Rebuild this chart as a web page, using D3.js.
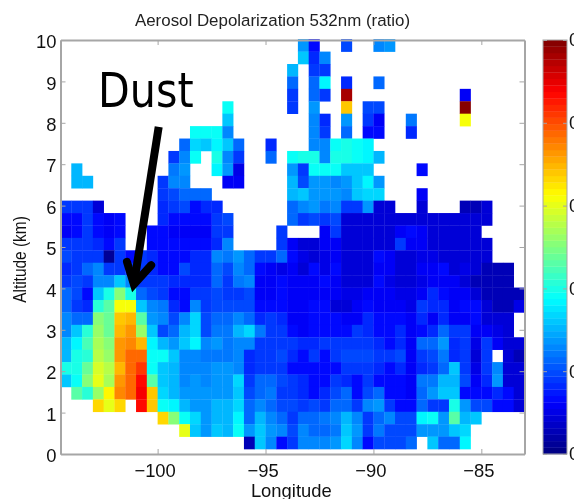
<!DOCTYPE html>
<html>
<head>
<meta charset="utf-8">
<script src="https://cdn.jsdelivr.net/npm/d3@7"></script>
<style>
	html, body { margin: 0; padding: 0; background: #fff; overflow: hidden; }
	svg { display: block; font-family: "Liberation Sans", Arial, sans-serif; filter: blur(0.45px); }
	.axis path, .axis line { stroke: #a6a6a6; }
	.axis text { fill: #111; font-size: 18.4px; }
</style>
</head>
<body>
<svg width="574" height="499"></svg>
<script>
const _ = null;

// one entry per longitude bin, ratio in hundredths
// rows run from the top of the plot down to the lowest altitude bin
const depolRows = [
	[_,_,_,_,_,_,_,_,_,_, _,_,_,_,_,_,_,_,_,_, _,_,14,7,_,_,10,_,_,13, 14,_,_,_,_,_,_,_,_,_, _,_,_],
	[_,_,_,_,_,_,_,_,_,_, _,_,_,_,_,_,_,_,_,_, _,_,16,8,13,_,_,_,_,_, _,_,_,_,_,_,_,_,_,_, _,_,_],
	[_,_,_,_,_,_,_,_,_,_, _,_,_,_,_,_,_,_,_,_, _,15,_,9,9,_,_,_,_,_, _,_,_,_,_,_,_,_,_,_, _,_,_],
	[_,_,_,_,_,_,_,_,_,_, _,_,_,_,_,_,_,_,_,_, _,11,_,11,18,_,8,_,_,11, _,_,_,_,_,_,_,_,_,_, _,_,_],
	[_,_,_,_,_,_,_,_,_,_, _,_,_,_,_,_,_,_,_,_, _,9,_,11,9,_,48,_,_,_, _,_,_,_,_,_,_,6,_,_, _,_,_],
	[_,_,_,_,_,_,_,_,_,_, _,_,_,_,_,19,_,_,_,_, _,9,_,14,_,_,34,_,10,10, _,_,_,_,_,_,_,50,_,_, _,_,_],
	[_,_,_,_,_,_,_,_,_,_, _,_,_,_,_,16,_,_,_,_, _,_,_,13,8,_,14,_,9,6, _,_,12,_,_,_,_,31,_,_, _,_,_],
	[_,_,_,_,_,_,_,_,_,_, _,_,19,19,19,13,_,_,_,_, _,_,_,13,9,_,11,_,7,7, _,_,8,_,_,_,_,_,_,_, _,_,_],
	[_,_,_,_,_,_,_,_,_,_, _,11,17,16,18,16,11,_,_,8, _,_,_,13,13,19,20,19,18,_, _,_,_,_,_,_,_,_,_,_, _,_,_],
	[_,_,_,_,_,_,_,_,_,_, 9,13,19,_,20,13,9,_,_,11, _,19,20,20,13,20,20,19,18,15, _,_,_,_,_,_,_,_,_,_, _,_,_],
	[_,15,_,_,_,_,_,_,_,_, 12,14,_,_,18,14,5,_,_,_, _,14,9,19,19,19,16,16,16,_, _,_,_,7,_,_,_,_,_,_, _,_,_],
	[_,15,15,_,_,_,_,_,_,9, 13,13,_,_,_,6,6,_,_,_, _,15,10,14,14,13,14,16,18,14, _,_,_,_,_,_,_,_,_,_, _,_,_],
	[_,_,_,_,_,_,_,_,_,9, 10,11,11,11,_,_,_,_,_,_, _,15,16,14,14,14,13,16,17,17, _,_,_,6,_,_,_,_,_,_, _,_,_],
	[9,9,9,4,_,_,_,_,_,8, 9,10,7,8,8,_,_,_,_,_, _,11,13,14,12,13,9,9,14,4, 4,_,_,4,_,_,_,3,3,4, _,_,_],
	[7,7,9,7,6,7,_,_,_,8, 7,7,7,7,9,10,_,_,_,_, _,11,9,10,9,10,4,4,4,4, 4,4,4,4,4,4,4,4,4,4, _,_,_],
	[6,7,9,7,6,7,_,_,7,7, 6,6,6,6,9,9,_,_,_,_, 9,_,_,_,6,9,4,4,4,4, 4,6,7,6,4,4,4,4,4,_, _,_,_],
	[9,9,9,8,7,9,_,_,7,7, 7,7,7,7,8,13,_,_,_,_, 9,6,4,4,6,6,4,4,4,4, 4,9,6,6,4,4,4,4,4,4, _,_,_],
	[10,9,9,9,1,9,7,9,8,7, 7,7,8,8,13,12,14,11,9,9, 11,7,5,4,5,6,4,4,4,7, 6,4,4,5,5,4,4,4,4,4, _,_,_],
	[8,9,11,13,9,9,9,9,8,7, 7,10,8,8,11,10,13,11,7,6, 5,6,4,7,5,7,4,4,4,6, 6,4,4,6,6,7,4,5,4,3, 3,3,_],
	[9,10,9,13,13,16,13,9,9,9, 8,8,8,8,11,9,12,13,6,6, 7,6,6,6,7,6,4,4,4,7, 5,4,4,5,6,6,6,4,3,3, 3,3,_],
	[11,10,7,16,20,25,20,11,10,9, 7,7,9,9,10,9,9,10,6,6, 7,6,6,6,6,6,5,5,6,6, 6,5,5,6,8,7,6,6,4,3, 3,3,3],
	[11,9,8,21,23,31,31,16,13,12, 8,7,13,9,10,10,10,10,7,7, 7,6,6,7,7,4,4,6,7,6, 6,6,5,9,8,8,6,7,7,4, 3,3,5],
	[13,11,11,25,24,34,35,23,14,13, 10,13,17,10,11,11,13,11,8,9, 8,6,6,7,7,7,6,6,8,7, 7,7,6,8,6,8,6,6,7,4, 4,4,_],
	[13,16,21,26,24,35,36,26,16,10, 11,15,17,10,12,12,15,17,12,9, 9,7,6,7,7,7,7,9,8,7, 7,8,6,7,8,11,9,9,6,6, 5,4,_],
	[15,18,22,27,25,36,37,35,18,15, 14,16,18,13,14,12,13,13,9,9, 9,9,8,8,9,9,9,9,9,8, 7,8,6,11,11,14,8,9,5,9, 6,4,4],
	[15,20,21,28,26,36,39,39,19,19, 16,13,13,12,12,12,13,8,9,9, 10,8,7,9,7,9,10,10,10,9, 9,10,6,9,10,12,8,9,4,9, _,4,3],
	[20,20,24,29,28,35,39,41,19,16, 15,13,13,13,14,14,13,8,9,9, 9,7,7,7,7,7,9,9,9,8, 7,8,6,8,9,11,16,9,5,9, 13,4,4],
	[16,19,25,30,27,36,39,43,23,16, 15,13,14,13,14,14,17,9,11,11, 10,9,8,7,7,9,8,7,9,7, 7,7,6,12,12,15,15,10,6,8, 14,4,4],
	[_,23,21,26,32,37,39,44,34,17, 15,14,14,14,14,14,16,10,11,12, 9,9,8,7,8,10,11,7,10,11, 7,7,6,11,14,16,16,7,7,7, 8,7,4],
	[_,_,_,33,30,33,_,43,34,19, 18,15,14,14,15,15,17,11,13,11, 10,10,9,10,9,11,11,9,13,14, 9,7,7,11,9,9,20,14,10,10, 7,7,4],
	[_,_,_,_,_,_,_,_,_,33, 25,19,17,14,15,15,18,11,15,13, 11,9,11,11,12,13,15,13,9,11, 13,10,10,18,19,14,23,15,16,_, _,_,_],
	[_,_,_,_,_,_,_,_,_,_, _,30,16,14,16,15,19,14,16,14, 13,10,13,11,11,12,16,14,9,12, 10,10,10,14,14,14,16,17,_,_, _,_,_],
	[_,_,_,_,_,_,_,_,_,_, _,_,_,_,_,_,_,3,16,13, 7,9,13,13,13,14,17,13,7,10, 10,10,11,_,16,11,11,18,_,_, _,_,_]
];

const lonTicks = [-100, -95, -90, -85];
const altTicks = [0, 1, 2, 3, 4, 5, 6, 7, 8, 9, 10];
const ratioTicks = [0, 0.1, 0.2, 0.3, 0.4, 0.5];

// bin layout of the lidar curtain
const lonStart = -104.5, lonStep = 0.5;
const altStart = 0.12, altStep = 0.3;

const plot = {left: 60.5, right: 524.5, top: 40, bottom: 454};
const bar = {left: 543, right: 567};

var x = d3.scaleLinear().domain([-104.5, -83]).range([plot.left, plot.right]);
var y = d3.scaleLinear().domain([0, 10]).range([plot.bottom, plot.top]);
var barY = d3.scaleLinear().domain([0, 0.5]).range([plot.bottom, plot.top]);

// matlab style jet, 64 steps
function jet(t) {
	var c = v => Math.round(255 * Math.max(0, Math.min(1, v)));
	var r = 1.5 - Math.abs(4 * t - 3);
	var g = 1.5 - Math.abs(4 * t - 2);
	var b = 1.5 - Math.abs(4 * t - 1);
	return "rgb(" + c(r) + "," + c(g) + "," + c(b) + ")";
}
const levels = 64;
var jetColors = d3.range(levels).map(i => jet((i + 0.5) / levels));
var color = d3.scaleQuantize().domain([0, 0.5]).range(jetColors);

var svg = d3.select("svg");

// flatten the rows into cells
var cells = [];
depolRows.forEach(function(row, i) {
	var bin = depolRows.length - 1 - i;
	row.forEach(function(v, j) {
		if (v !== null) cells.push({lon: lonStart + j * lonStep, alt: altStart + bin * altStep, value: v / 100});
	});
});

svg.append("g")
	.selectAll("rect")
	.data(cells)
	.join("rect")
	.attr("x", d => x(d.lon))
	.attr("y", d => y(d.alt + altStep))
	.attr("width", x(lonStep) - x(0) + 0.3)
	.attr("height", y(0) - y(altStep) + 0.3)
	.attr("fill", d => color(d.value));

// plot frame and ticks
function frame(g) {
	g.selectAll(".domain").attr("stroke-width", 2);
}
svg.append("g").attr("class", "axis")
	.attr("transform", "translate(0," + plot.bottom + ")")
	.call(d3.axisBottom(x).tickValues(lonTicks).tickSizeInner(-5).tickSizeOuter(0).tickPadding(10).tickFormat(d3.format("d")))
	.call(frame)
	.selectAll("text").attr("dx", -3);
svg.append("g").attr("class", "axis")
	.attr("transform", "translate(" + plot.left + ",0)")
	.call(d3.axisLeft(y).tickValues(altTicks).tickSizeInner(-5).tickSizeOuter(0).tickPadding(4).tickFormat(d3.format("d")))
	.call(frame)
	.selectAll("text").attr("dy", "0.42em");
svg.append("g").attr("class", "axis")
	.attr("transform", "translate(0," + plot.top + ")")
	.call(d3.axisTop(x).tickValues(lonTicks).tickSizeInner(-5).tickSizeOuter(0).tickFormat(""))
	.call(frame);
svg.append("g").attr("class", "axis")
	.attr("transform", "translate(" + plot.right + ",0)")
	.call(d3.axisRight(y).tickValues(altTicks).tickSizeInner(-5).tickSizeOuter(0).tickFormat(""))
	.call(frame);

// colour bar
var barStep = (plot.bottom - plot.top) / levels;
svg.append("g")
	.selectAll("rect")
	.data(jetColors)
	.join("rect")
	.attr("x", bar.left)
	.attr("y", (d, i) => plot.bottom - (i + 1) * barStep)
	.attr("width", bar.right - bar.left)
	.attr("height", barStep + 0.3)
	.attr("fill", d => d);
svg.append("rect")
	.attr("x", bar.left)
	.attr("y", plot.top)
	.attr("width", bar.right - bar.left)
	.attr("height", plot.bottom - plot.top)
	.attr("fill", "none")
	.attr("stroke", "#a6a6a6");
var barAxis = svg.append("g").attr("class", "axis")
	.attr("transform", "translate(" + bar.right + ",0)")
	.call(d3.axisRight(barY).tickValues(ratioTicks).tickSizeInner(-4).tickSizeOuter(0).tickPadding(2).tickFormat(d3.format(".1f")));
barAxis.selectAll(".domain").remove();
barAxis.selectAll("line").attr("stroke", "#444");
barAxis.selectAll("text").filter(d => d === 0).text("0");
var barAxisLeft = svg.append("g").attr("class", "axis")
	.attr("transform", "translate(" + bar.left + ",0)")
	.call(d3.axisLeft(barY).tickValues(ratioTicks).tickSizeInner(-4).tickSizeOuter(0).tickFormat(""));
barAxisLeft.selectAll(".domain").remove();
barAxisLeft.selectAll("line").attr("stroke", "#444");

// titles
svg.append("text")
	.attr("x", 272.5)
	.attr("y", 25.5)
	.attr("text-anchor", "middle")
	.attr("font-size", 16.9)
	.attr("fill", "#222")
	.text("Aerosol Depolarization 532nm (ratio)");
svg.append("text")
	.attr("x", 291.3)
	.attr("y", 496.7)
	.attr("text-anchor", "middle")
	.attr("font-size", 18.4)
	.attr("fill", "#111")
	.text("Longitude");
svg.append("text")
	.attr("transform", "translate(26,259.5) rotate(-90) scale(0.84,1)")
	.attr("text-anchor", "middle")
	.attr("font-size", 18.4)
	.attr("fill", "#111")
	.text("Altitude (km)");

// annotation, placed in data units
const arrowShaft = [[-99.95, 7.9], [-101.1, 4.1]];
const arrowHead = [[-101.42, 4.64], [-101.1, 4.1], [-100.3, 4.56]];
var arrowLine = d3.line().x(d => x(d[0])).y(d => y(d[1]));
svg.append("path")
	.attr("d", arrowLine(arrowShaft))
	.attr("fill", "none")
	.attr("stroke", "#000")
	.attr("stroke-width", 8);
svg.append("path")
	.attr("d", arrowLine(arrowHead))
	.attr("fill", "none")
	.attr("stroke", "#000")
	.attr("stroke-width", 8)
	.attr("stroke-linecap", "round")
	.attr("stroke-linejoin", "miter");
svg.append("text")
	.attr("transform", "translate(98,106.7) scale(0.86,1)")
	.attr("font-family", "'DejaVu Sans', sans-serif")
	.attr("font-size", 48)
	.attr("fill", "#000")
	.text("Dust");
</script>
</body>
</html>
